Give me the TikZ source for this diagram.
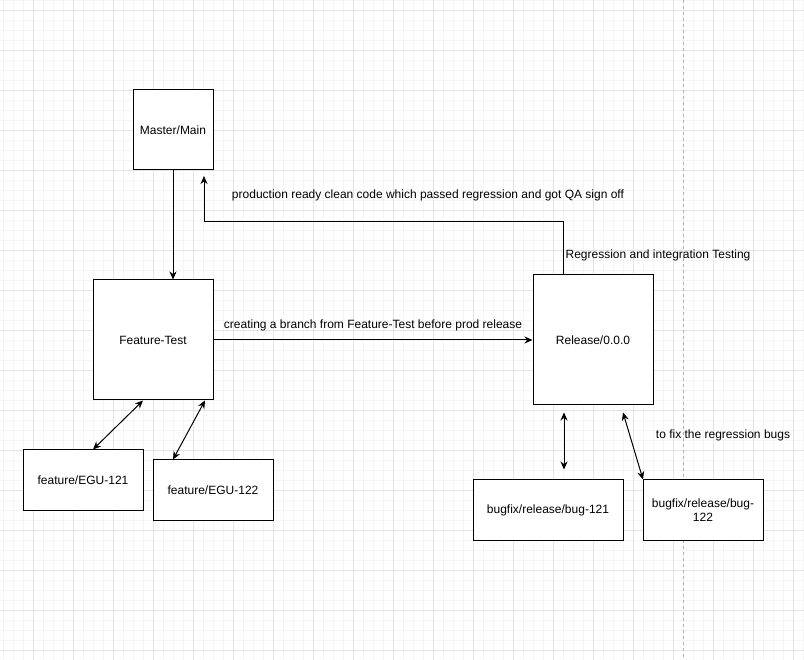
\documentclass[tikz,border=0pt]{standalone}
\usepackage{fontspec}
\setmainfont{Liberation Sans}
\usetikzlibrary{arrows.meta}
\tikzset{
	branch/.style={draw, line width=1pt, fill=white, inner sep=0pt, align=center,
		font=\fontsize{12}{14}\selectfont},
	note/.style={inner sep=0pt, font=\fontsize{12}{14}\selectfont},
	arr/.style={line width=1pt, -{Stealth[length=8pt,width=7pt]}},
	dblarr/.style={line width=1pt, {Stealth[length=8pt,width=7pt]}-{Stealth[length=8pt,width=7pt]}},
	minorgrid/.style={line width=0.8pt, color=black!4},
	majorgrid/.style={line width=0.8pt, color=black!11}
}
\begin{document}
\begin{tikzpicture}[x=1pt, y=-1pt]
				\useasboundingbox (0,0) rectangle (804,660);
				\fill[white] (0,0) rectangle (804,660);
				% grid
				\foreach \x in {3,13,...,803} \draw[minorgrid] (\x,0) -- (\x,660);
				\foreach \y in {0,10,...,660} \draw[minorgrid] (0,\y) -- (804,\y);
				\foreach \x in {33,73,...,793} \draw[majorgrid] (\x,0) -- (\x,660);
				\foreach \y in {10,50,...,650} \draw[majorgrid] (0,\y) -- (804,\y);
				\draw[black!30, line width=0.8pt, dash pattern=on 3pt off 3pt] (683,0) -- (683,660);
				% branches
				\node[branch, minimum width=80pt, minimum height=80pt] (main) at (173,130) {Master/Main};
				\node[branch, minimum width=120pt, minimum height=120pt] (ftest) at (153,340) {Feature-Test};
				\node[branch, minimum width=120pt, minimum height=60pt] (feat121) at (83,480) {feature/EGU-121};
				\node[branch, minimum width=120pt, minimum height=60pt] (feat122) at (213,490) {feature/EGU-122};
				\node[branch, minimum width=120pt, minimum height=130pt] (release) at (593,340) {Release/0.0.0};
				\node[branch, minimum width=150pt, minimum height=60pt] (bug121) at (548,510) {bugfix/release/bug-121};
				\node[branch, minimum width=120pt, minimum height=60pt] (bug122) at (703,510) {bugfix/release/bug-\\122};
				\coordinate (turn) at (204,222);
				\coordinate (qa) at (204,176);
				\draw[arr] (main) -- (main |- ftest.north);
				\draw[arr] (ftest) -- (release);
				\draw[arr] ([xshift=-30pt]release.north) |- (turn) -- (qa);
				\draw[dblarr] ([xshift=-10pt]ftest.south) -- ([xshift=10pt]feat121.north);
				\draw[dblarr] ([xshift=52pt]ftest.south) -- ([xshift=-40pt]feat122.north);
				\draw[dblarr] ([xshift=-29pt, yshift=-7pt]release.south) -- ([xshift=16pt, yshift=10pt]bug121.north);
				\draw[dblarr] ([xshift=30pt, yshift=-7pt]release.south) -- ([xshift=-60pt]bug122.north);
				% labels
				\node[note] (qalabel) at (428,195) {production ready clean code which passed regression and got QA sign off};
				\node[note] (regtest) at (658,255) {Regression and integration Testing};
				\node[note] (branchlabel) at (373,325) {creating a branch from Feature-Test before prod release};
				\node[note] (fixlabel) at (723,435) {to fix the regression bugs};
			\end{tikzpicture}
\end{document}
